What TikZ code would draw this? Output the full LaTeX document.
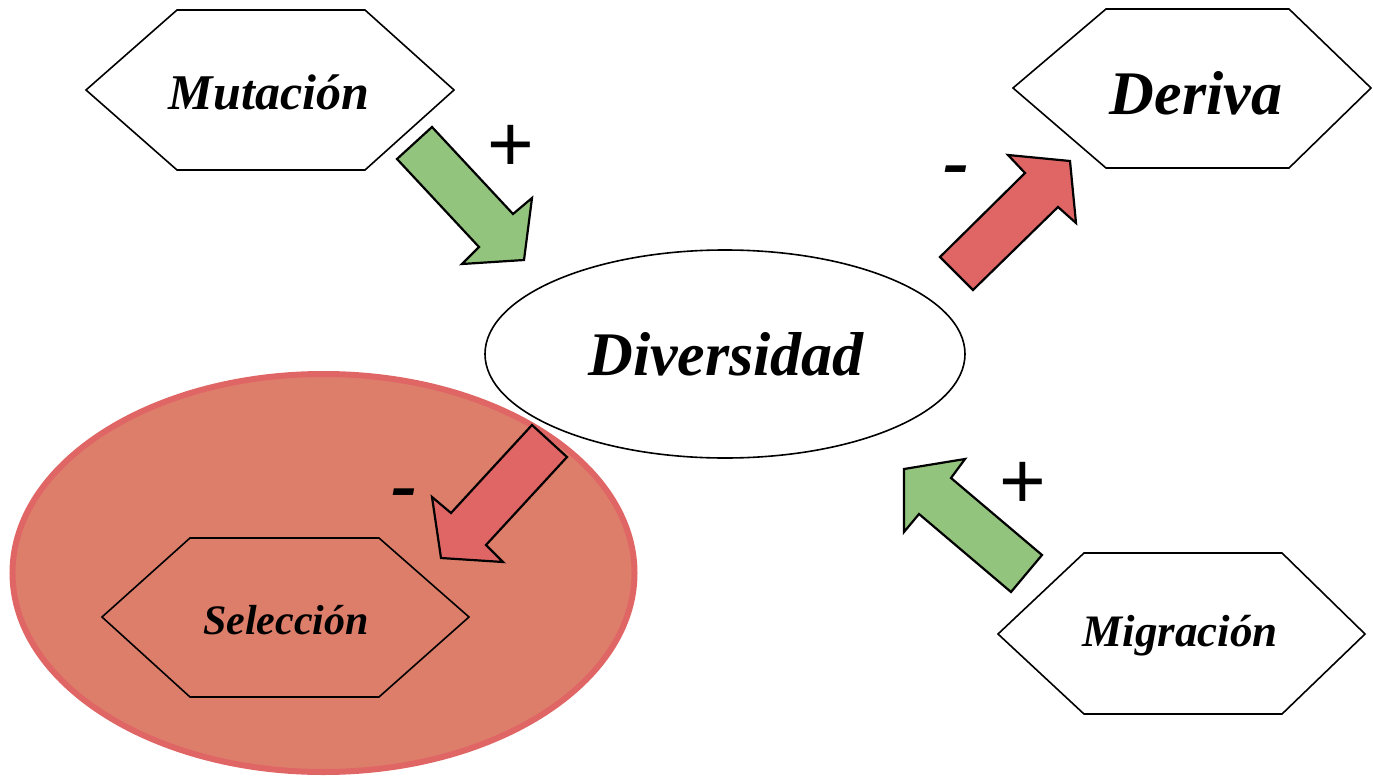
\documentclass[tikz,border=0pt]{standalone}
\usepackage{fontspec}
\setmainfont{Liberation Serif}
\newfontfamily\plusfont{Liberation Sans}
\definecolor{arrowgreen}{HTML}{93C47D}
\definecolor{arrowred}{HTML}{E06666}
\definecolor{blobfill}{HTML}{DD7E6B}
\definecolor{blobline}{HTML}{E06666}
\tikzset{
  hexline/.style={draw=black, line width=1.6pt, line join=miter},
  blockarrow/.style={draw=black, line width=2.2pt, line join=miter},
  greenarrow/.style={blockarrow, fill=arrowgreen},
  redarrow/.style={blockarrow, fill=arrowred},
  lbl/.style={inner sep=0pt},
  signlbl/.style={inner sep=0pt},
  minuslbl/.style={inner sep=0pt, anchor=base, font=\fontsize{78}{78}\selectfont\bfseries\itshape},
}
\begin{document}
\begin{tikzpicture}[x=1pt, y=-1pt]
\useasboundingbox (0,0) rectangle (1373,776);
% big red ellipse behind
\path[fill=blobfill, draw=blobline, line width=6pt] (323.5,573) ellipse [x radius=311, y radius=199];
% central ellipse
\path[draw=black, fill=white, line width=1.6pt] (725,354) ellipse [x radius=240, y radius=104];
\node[lbl, font=\fontsize{62}{62}\selectfont\bfseries\itshape] (div) at (726,354) {Diversidad};
% hexagons
\draw[hexline] (86,90) -- (177,10) -- (365,10) -- (454,90) -- (365,170) -- (177,170) -- cycle;
\node[lbl, font=\fontsize{50}{50}\selectfont\bfseries\itshape] (mut) at (269,92) {Mutación};
\draw[hexline] (1013,88) -- (1106,9) -- (1289,9) -- (1371,88) -- (1289,168) -- (1106,168) -- cycle;
\node[lbl, font=\fontsize{62}{62}\selectfont\bfseries\itshape] (der) at (1196,93) {Deriva};
\draw[hexline] (102,617) -- (190,538) -- (379,538) -- (469,617) -- (379,697) -- (190,697) -- cycle;
\node[lbl, font=\fontsize{42}{42}\selectfont\bfseries\itshape] (sel) at (286,620) {Selección};
\draw[hexline] (998,634) -- (1084,553) -- (1282,553) -- (1365,634) -- (1282,714) -- (1084,714) -- cycle;
\node[lbl, font=\fontsize{45}{45}\selectfont\bfseries\itshape] (mig) at (1180,636) {Migración};
% block arrows
\draw[greenarrow] (397,159) -- (432,127) -- (513,214) -- (532,198) -- (524,260) -- (462,264) -- (479,247) -- cycle;
\draw[redarrow] (940,257) -- (1025,173) -- (1008,155) -- (1070,161) -- (1076,223) -- (1058,207) -- (973,290) -- cycle;
\draw[redarrow] (532,425) -- (567,457) -- (486,545) -- (503,562) -- (441,558) -- (432,497) -- (451,513) -- cycle;
\draw[greenarrow] (1042,555) -- (1011,592) -- (919,514) -- (904,532) -- (904,469) -- (965,459) -- (951,478) -- cycle;
% signs
\node[signlbl, font=\fontsize{80}{80}\selectfont\plusfont] (p1) at (511,148) {+};
\node[signlbl, font=\fontsize{80}{80}\selectfont\plusfont] (p2) at (1023,485) {+};
\node[minuslbl] (m1) at (956,187) {-};
\node[minuslbl] (m2) at (404,510) {-};
\end{tikzpicture}
\end{document}
